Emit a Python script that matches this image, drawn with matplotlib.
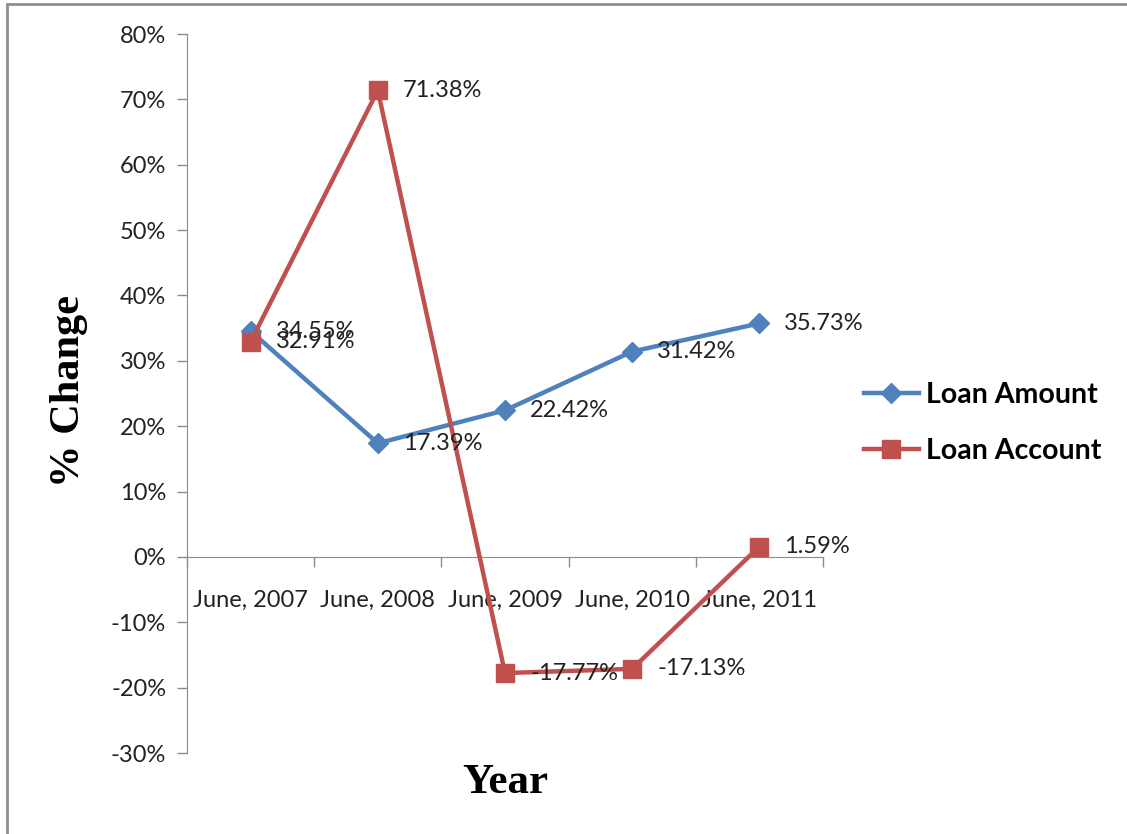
import numpy as np
import matplotlib.pyplot as plt
from matplotlib.patches import Rectangle
from matplotlib.ticker import FuncFormatter

# percent change per year
years = ['June, 2007', 'June, 2008', 'June, 2009', 'June, 2010', 'June, 2011']
loan_amount = [34.55, 17.39, 22.42, 31.42, 35.73]
loan_account = [32.91, 71.38, -17.77, -17.13, 1.59]

blue = '#4F81BD'
red = '#C0504D'
axis_gray = '#8C8C8C'

plt.rcParams['font.family'] = ['Lato', 'DejaVu Sans']

fig = plt.figure(figsize=(11.27, 8.34), dpi=100)
ax = fig.add_axes([187/1127, 1 - 753/834, (823 - 187)/1127, (753 - 34)/834])

x = np.arange(len(years))
ax.plot(x, loan_amount, color=blue, lw=3.2, marker='D', ms=10.5,
        label='Loan Amount', zorder=3)
ax.plot(x, loan_account, color=red, lw=3.2, marker='s', ms=13.5,
        label='Loan Account', zorder=4)

# value labels right of each point
for xi, v in zip(x, loan_amount):
    ax.annotate(f'{v:.2f}%', (xi, v), xytext=(18, 0), textcoords='offset points',
                va='center', ha='left', fontsize=17, color='#222222', zorder=5)
for xi, v in zip(x, loan_account):
    ax.annotate(f'{v:.2f}%', (xi, v), xytext=(18, 0), textcoords='offset points',
                va='center', ha='left', fontsize=17, color='#222222', zorder=5)

ax.set_xlim(-0.5, 4.5)
ax.set_ylim(-30, 80)
ax.set_yticks(np.arange(-30, 81, 10))
ax.yaxis.set_major_formatter(FuncFormatter(lambda v, p: f'{v:.0f}%'))

# category boundaries get tick marks, centers get the labels
ax.set_xticks(np.arange(-0.5, 5, 1))
ax.set_xticklabels([])
ax.set_xticks(x, minor=True)
ax.set_xticklabels(years, minor=True)
ax.tick_params(axis='x', which='major', direction='out', length=7, width=1,
               color=axis_gray)
ax.tick_params(axis='x', which='minor', length=0, pad=24, labelsize=17,
               labelcolor='#222222')
ax.tick_params(axis='y', direction='out', length=7, width=1, color=axis_gray,
               labelsize=17, labelcolor='#222222', pad=8)

ax.spines['top'].set_visible(False)
ax.spines['right'].set_visible(False)
ax.spines['left'].set_color(axis_gray)
ax.spines['bottom'].set_color(axis_gray)
ax.spines['bottom'].set_position(('data', 0))

fig.text(505/1127, 1 - 783/834, 'Year', family='Liberation Serif',
         fontweight='bold', fontsize=31, ha='center', va='center')
fig.text(69/1127, 1 - 391/834, '% Change', family='Liberation Serif',
         fontweight='bold', fontsize=30.5, ha='center', va='center', rotation=90)

fig.legend(loc='center left', bbox_to_anchor=(838/1127, 1 - 423/834),
           frameon=False, handlelength=1.95, handletextpad=0.25, labelspacing=1.05,
           prop={'size': 20.5, 'weight': 'bold'})

# outer frame
fig.patches.append(Rectangle((7/1127, -0.05), 1.1, 1 - 4/834 + 0.05,
                             transform=fig.transFigure, fill=False,
                             edgecolor='#8E8E8E', lw=2))

fig.savefig('out.png', dpi=100)
